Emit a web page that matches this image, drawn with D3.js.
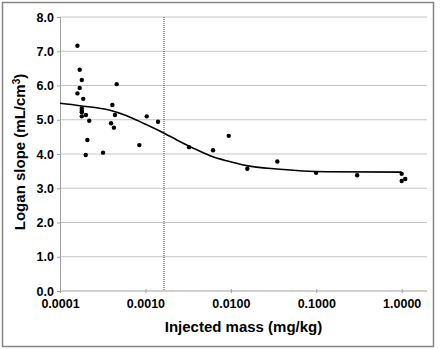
<!DOCTYPE html>
<html>
<head>
<meta charset="utf-8">
<script src="https://cdn.jsdelivr.net/npm/d3@7"></script>
<style>
  body { margin: 0; background: #fff; }
  text { font-family: "Liberation Sans", Arial, sans-serif; font-weight: bold; fill: #000; }
</style>
</head>
<body>
<div id="chart"></div>
<script>
// measured data (injected mass in mg/kg, Logan slope in mL/cm3)
var massValues = [0.000160, 0.000170, 0.000180, 0.000170, 0.000160, 0.000187,
  0.000180, 0.000180, 0.000180, 0.000180, 0.000201, 0.000220, 0.000209, 0.000200,
  0.000319, 0.000461, 0.000410, 0.000440, 0.000396, 0.000428, 0.000849, 0.001036,
  0.001405, 0.00324, 0.00619, 0.00945, 0.0156, 0.0350, 0.0995, 0.301, 1.0, 1.0, 1.10];
var slopeValues = [7.16, 6.46, 6.16, 5.93, 5.77, 5.61,
  5.33, 5.26, 5.22, 5.10, 5.14, 4.97, 4.41, 3.97,
  4.04, 6.04, 5.43, 5.14, 4.90, 4.77, 4.26, 5.10,
  4.94, 4.20, 4.11, 4.53, 3.57, 3.78, 3.45, 3.38, 3.42, 3.21, 3.27];

// fitted curve
var fitMass = [0.0001, 0.000171, 0.000385, 0.000604, 0.000944, 0.00168, 0.00233,
  0.00364, 0.00571, 0.00895, 0.0153, 0.0344, 0.133, 1.0];
var fitSlope = [5.48, 5.41, 5.28, 5.12, 4.90, 4.60, 4.41,
  4.17, 3.95, 3.80, 3.66, 3.56, 3.48, 3.47];

var markerMass = 0.00165;

var yTicks = [0, 1, 2, 3, 4, 5, 6, 7, 8];
var xTicks = [0.0001, 0.001, 0.01, 0.1, 1];

var svgWidth = 440;
var svgHeight = 349;

var plotLeft = 60, plotRight = 427, plotTop = 17, plotBottom = 291;

var svg = d3.select("#chart")
  .append("svg")
  .attr("width", svgWidth)
  .attr("height", svgHeight);

// outer frame
svg.append("rect")
  .attr("x", 2.5).attr("y", 2.5)
  .attr("width", 431).attr("height", 344)
  .attr("fill", "#fff")
  .attr("stroke", "#858585")
  .attr("stroke-width", 1.5);

var x = d3.scaleLog()
  .domain([0.0001, 1])
  .range([plotLeft, 401.7]);

var y = d3.scaleLinear()
  .domain([0, 8])
  .range([plotBottom, plotTop]);

// horizontal grid
svg.append("g")
  .selectAll("line")
  .data(yTicks.slice(1))
  .enter()
  .append("line")
  .attr("x1", plotLeft).attr("x2", plotRight)
  .attr("y1", d => y(d)).attr("y2", d => y(d))
  .attr("stroke", "#c4c4c4")
  .attr("stroke-width", 1);

// y axis
var yAxis = svg.append("g")
  .attr("transform", `translate(${plotLeft},0)`)
  .call(d3.axisLeft(y).tickValues(yTicks).tickSize(3).tickPadding(3).tickFormat(d3.format(".1f")));
yAxis.select(".domain").attr("stroke", "#a0a0a0");
yAxis.selectAll(".tick line").attr("stroke", "#a0a0a0");
yAxis.selectAll("text").style("font-size", "12.5px").attr("fill", "#000");

// x axis
var xAxis = svg.append("g")
  .attr("transform", `translate(0,${plotBottom})`)
  .call(d3.axisBottom(x).tickValues(xTicks).tickSize(3).tickPadding(5).tickFormat(d3.format(".4f")));
xAxis.select(".domain").remove();
xAxis.append("line")
  .attr("x1", plotLeft).attr("x2", plotRight)
  .attr("stroke", "#a0a0a0");
xAxis.selectAll(".tick line").attr("stroke", "#a0a0a0").attr("y1", -2).attr("y2", 2);
xAxis.selectAll("text").style("font-size", "12.5px").attr("fill", "#000");

// dotted marker line
svg.append("line")
  .attr("x1", x(markerMass)).attr("x2", x(markerMass))
  .attr("y1", plotTop).attr("y2", plotBottom)
  .attr("stroke", "#444")
  .attr("stroke-width", 1)
  .attr("stroke-dasharray", "1,1");

// fitted curve
var fitData = fitMass.map((m, i) => ({ m: m, s: fitSlope[i] }));
svg.append("path")
  .datum(fitData)
  .attr("fill", "none")
  .attr("stroke", "#000")
  .attr("stroke-width", 1.6)
  .attr("d", d3.line().x(d => x(d.m)).y(d => y(d.s)).curve(d3.curveMonotoneX));

// points
var pts = massValues.map((m, i) => ({ m: m, s: slopeValues[i] }));
svg.append("g")
  .selectAll("circle")
  .data(pts)
  .enter()
  .append("circle")
  .attr("cx", d => x(d.m))
  .attr("cy", d => y(d.s))
  .attr("r", 2.2)
  .attr("fill", "#000");

// axis titles
svg.append("text")
  .attr("x", (plotLeft + plotRight) / 2)
  .attr("y", 332)
  .attr("text-anchor", "middle")
  .style("font-size", "15px")
  .text("Injected mass (mg/kg)");

var yt = svg.append("text")
  .attr("transform", "translate(25,152) rotate(-90)")
  .attr("text-anchor", "middle")
  .style("font-size", "15px");
yt.append("tspan").text("Logan slope (mL/cm");
yt.append("tspan").attr("dy", -5).style("font-size", "10px").text("3");
yt.append("tspan").attr("dy", 5).text(")");
</script>
</body>
</html>
